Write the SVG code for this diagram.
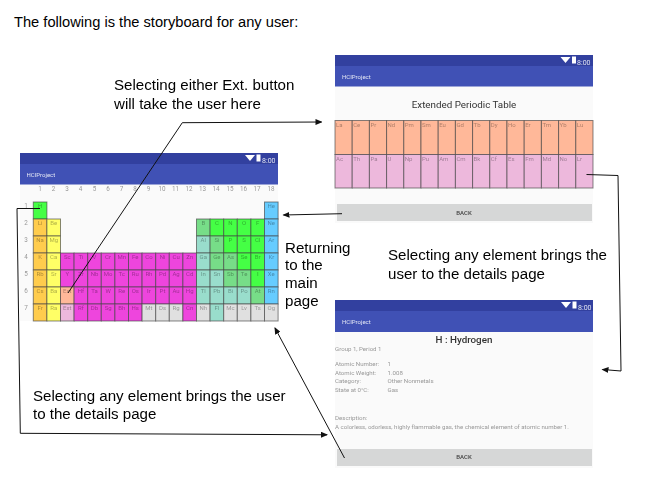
<svg xmlns="http://www.w3.org/2000/svg" width="659" height="502" viewBox="0 0 659 502">
<style>
.note{font:15.1px "Liberation Sans",Arial,sans-serif;fill:#000}
.intro{font:14.67px "Liberation Sans",Arial,sans-serif;fill:#000}
.scr{fill:#fafafa}.st{fill:#303f9f}.ab{fill:#3f51b5}.btn{fill:#d6d7d7}
.ttl{font:6px Roboto,sans-serif;fill:#fff;opacity:.85}
.clk{font:7px Roboto,sans-serif;fill:#fff;opacity:.85}
.idx{font:6.3px Roboto,sans-serif;fill:#999;text-anchor:middle}
.s{font:6px Roboto,sans-serif;fill:#000;opacity:.33;text-anchor:middle}
.l{font:6px Roboto,sans-serif;fill:#000;opacity:.33}
.d{font:6.1px Roboto,sans-serif;fill:#999}
.bk{font:500 6px Roboto,sans-serif;fill:#444;text-anchor:middle}
rect.c{stroke:#444;stroke-opacity:.65;stroke-width:1}
.a{fill:#ffcc4d}.e{fill:#ffff66}.t{fill:#ee44dd}.n{fill:#44ff44}.m{fill:#77dd88}.p{fill:#99ddcc}.g{fill:#66ccff}.u{fill:#e0e0e0}.o{fill:#ffb899}.k{fill:#edb8dc}
.cn{fill:none;stroke:#111;stroke-width:1}
</style>
<defs>
<filter id="soft" x="-2%" y="-2%" width="104%" height="104%"><feGaussianBlur stdDeviation="0.42"/></filter>
<marker id="ah" markerWidth="7" markerHeight="6" refX="6" refY="3" orient="auto" markerUnits="userSpaceOnUse"><path d="M0 0L7 3L0 6Z" fill="#111"/></marker>
<g id="wifi"><path d="M0 0H10L5 6Z" fill="#fff"/><rect x="11.500" y="-.5" width="4" height="7" fill="#fff"/></g>
</defs>
<rect width="659" height="502" fill="#fff"/>
<g id="intro"><text class="intro" x="14" y="27">The following is the storyboard for any user:</text></g>

<g id="main-screen" filter="url(#soft)">
<rect class="scr" x="20" y="153" width="258" height="168"/>
<rect class="st" x="20" y="153" width="258" height="11"/>
<rect class="ab" x="20" y="164" width="258" height="20.500"/>
<use href="#wifi" x="245" y="155"/>
<text class="clk" x="262" y="162.500">8:00</text>
<text class="ttl" x="26.500" y="176.500">HCIProject</text>
<g class="idx">
<text class="idx" x="40" y="191">1</text><text class="idx" x="53.500" y="191">2</text><text class="idx" x="67" y="191">3</text><text class="idx" x="80.500" y="191">4</text><text class="idx" x="94.500" y="191">5</text><text class="idx" x="108" y="191">6</text><text class="idx" x="121.500" y="191">7</text><text class="idx" x="135" y="191">8</text><text class="idx" x="148.500" y="191">9</text><text class="idx" x="162" y="191">10</text><text class="idx" x="175.500" y="191">11</text><text class="idx" x="189" y="191">12</text><text class="idx" x="202.500" y="191">13</text><text class="idx" x="216" y="191">14</text><text class="idx" x="230" y="191">15</text><text class="idx" x="243.500" y="191">16</text><text class="idx" x="257" y="191">17</text><text class="idx" x="271" y="191">18</text>
<text class="idx" x="26" y="207.500">1</text><text class="idx" x="26" y="224.500">2</text><text class="idx" x="26" y="241.500">3</text><text class="idx" x="26" y="258.500">4</text><text class="idx" x="26" y="275.500">5</text><text class="idx" x="26" y="292.500">6</text><text class="idx" x="26" y="309.500">7</text>
</g>
<g id="cells-fill">
<rect class="c n" x="33.300" y="202" width="13.600" height="17"/><rect class="c g" x="264.500" y="202" width="13.600" height="17"/>
<rect class="c a" x="33.300" y="219" width="13.600" height="17"/><rect class="c e" x="46.900" y="219" width="13.600" height="17"/><rect class="c m" x="196.500" y="219" width="13.600" height="17"/><rect class="c n" x="210.100" y="219" width="13.600" height="17"/><rect class="c n" x="223.700" y="219" width="13.600" height="17"/><rect class="c n" x="237.300" y="219" width="13.600" height="17"/><rect class="c n" x="250.900" y="219" width="13.600" height="17"/><rect class="c g" x="264.500" y="219" width="13.600" height="17"/>
<rect class="c a" x="33.300" y="236" width="13.600" height="17"/><rect class="c e" x="46.900" y="236" width="13.600" height="17"/><rect class="c p" x="196.500" y="236" width="13.600" height="17"/><rect class="c m" x="210.100" y="236" width="13.600" height="17"/><rect class="c n" x="223.700" y="236" width="13.600" height="17"/><rect class="c n" x="237.300" y="236" width="13.600" height="17"/><rect class="c n" x="250.900" y="236" width="13.600" height="17"/><rect class="c g" x="264.500" y="236" width="13.600" height="17"/>
<rect class="c a" x="33.300" y="253" width="13.600" height="17"/><rect class="c e" x="46.900" y="253" width="13.600" height="17"/><rect class="c t" x="60.500" y="253" width="13.600" height="17"/><rect class="c t" x="74.100" y="253" width="13.600" height="17"/><rect class="c t" x="87.700" y="253" width="13.600" height="17"/><rect class="c t" x="101.300" y="253" width="13.600" height="17"/><rect class="c t" x="114.900" y="253" width="13.600" height="17"/><rect class="c t" x="128.500" y="253" width="13.600" height="17"/><rect class="c t" x="142.100" y="253" width="13.600" height="17"/><rect class="c t" x="155.700" y="253" width="13.600" height="17"/><rect class="c t" x="169.300" y="253" width="13.600" height="17"/><rect class="c t" x="182.900" y="253" width="13.600" height="17"/><rect class="c p" x="196.500" y="253" width="13.600" height="17"/><rect class="c m" x="210.100" y="253" width="13.600" height="17"/><rect class="c m" x="223.700" y="253" width="13.600" height="17"/><rect class="c n" x="237.300" y="253" width="13.600" height="17"/><rect class="c n" x="250.900" y="253" width="13.600" height="17"/><rect class="c g" x="264.500" y="253" width="13.600" height="17"/>
<rect class="c a" x="33.300" y="270" width="13.600" height="17"/><rect class="c e" x="46.900" y="270" width="13.600" height="17"/><rect class="c t" x="60.500" y="270" width="13.600" height="17"/><rect class="c t" x="74.100" y="270" width="13.600" height="17"/><rect class="c t" x="87.700" y="270" width="13.600" height="17"/><rect class="c t" x="101.300" y="270" width="13.600" height="17"/><rect class="c t" x="114.900" y="270" width="13.600" height="17"/><rect class="c t" x="128.500" y="270" width="13.600" height="17"/><rect class="c t" x="142.100" y="270" width="13.600" height="17"/><rect class="c t" x="155.700" y="270" width="13.600" height="17"/><rect class="c t" x="169.300" y="270" width="13.600" height="17"/><rect class="c t" x="182.900" y="270" width="13.600" height="17"/><rect class="c p" x="196.500" y="270" width="13.600" height="17"/><rect class="c p" x="210.100" y="270" width="13.600" height="17"/><rect class="c m" x="223.700" y="270" width="13.600" height="17"/><rect class="c m" x="237.300" y="270" width="13.600" height="17"/><rect class="c n" x="250.900" y="270" width="13.600" height="17"/><rect class="c g" x="264.500" y="270" width="13.600" height="17"/>
<rect class="c a" x="33.300" y="287" width="13.600" height="17"/><rect class="c e" x="46.900" y="287" width="13.600" height="17"/><rect class="c o" x="60.500" y="287" width="13.600" height="17"/><rect class="c t" x="74.100" y="287" width="13.600" height="17"/><rect class="c t" x="87.700" y="287" width="13.600" height="17"/><rect class="c t" x="101.300" y="287" width="13.600" height="17"/><rect class="c t" x="114.900" y="287" width="13.600" height="17"/><rect class="c t" x="128.500" y="287" width="13.600" height="17"/><rect class="c t" x="142.100" y="287" width="13.600" height="17"/><rect class="c t" x="155.700" y="287" width="13.600" height="17"/><rect class="c t" x="169.300" y="287" width="13.600" height="17"/><rect class="c t" x="182.900" y="287" width="13.600" height="17"/><rect class="c p" x="196.500" y="287" width="13.600" height="17"/><rect class="c p" x="210.100" y="287" width="13.600" height="17"/><rect class="c p" x="223.700" y="287" width="13.600" height="17"/><rect class="c p" x="237.300" y="287" width="13.600" height="17"/><rect class="c m" x="250.900" y="287" width="13.600" height="17"/><rect class="c g" x="264.500" y="287" width="13.600" height="17"/>
<rect class="c a" x="33.300" y="304" width="13.600" height="17"/><rect class="c e" x="46.900" y="304" width="13.600" height="17"/><rect class="c k" x="60.500" y="304" width="13.600" height="17"/><rect class="c t" x="74.100" y="304" width="13.600" height="17"/><rect class="c t" x="87.700" y="304" width="13.600" height="17"/><rect class="c t" x="101.300" y="304" width="13.600" height="17"/><rect class="c t" x="114.900" y="304" width="13.600" height="17"/><rect class="c t" x="128.500" y="304" width="13.600" height="17"/><rect class="c u" x="142.100" y="304" width="13.600" height="17"/><rect class="c u" x="155.700" y="304" width="13.600" height="17"/><rect class="c u" x="169.300" y="304" width="13.600" height="17"/><rect class="c t" x="182.900" y="304" width="13.600" height="17"/><rect class="c u" x="196.500" y="304" width="13.600" height="17"/><rect class="c p" x="210.100" y="304" width="13.600" height="17"/><rect class="c u" x="223.700" y="304" width="13.600" height="17"/><rect class="c u" x="237.300" y="304" width="13.600" height="17"/><rect class="c u" x="250.900" y="304" width="13.600" height="17"/><rect class="c u" x="264.500" y="304" width="13.600" height="17"/>
</g>
<g id="cells-text">
<text class="s" x="40.100" y="207.500">H</text><text class="s" x="271.300" y="207.500">He</text>
<text class="s" x="40.100" y="224.500">Li</text><text class="s" x="53.700" y="224.500">Be</text><text class="s" x="203.300" y="224.500">B</text><text class="s" x="216.900" y="224.500">C</text><text class="s" x="230.500" y="224.500">N</text><text class="s" x="244.100" y="224.500">O</text><text class="s" x="257.700" y="224.500">F</text><text class="s" x="271.300" y="224.500">Ne</text>
<text class="s" x="40.100" y="241.500">Na</text><text class="s" x="53.700" y="241.500">Mg</text><text class="s" x="203.300" y="241.500">Al</text><text class="s" x="216.900" y="241.500">Si</text><text class="s" x="230.500" y="241.500">P</text><text class="s" x="244.100" y="241.500">S</text><text class="s" x="257.700" y="241.500">Cl</text><text class="s" x="271.300" y="241.500">Ar</text>
<text class="s" x="40.100" y="258.500">K</text><text class="s" x="53.700" y="258.500">Ca</text><text class="s" x="67.300" y="258.500">Sc</text><text class="s" x="80.900" y="258.500">Ti</text><text class="s" x="94.500" y="258.500">V</text><text class="s" x="108.100" y="258.500">Cr</text><text class="s" x="121.700" y="258.500">Mn</text><text class="s" x="135.300" y="258.500">Fe</text><text class="s" x="148.900" y="258.500">Co</text><text class="s" x="162.500" y="258.500">Ni</text><text class="s" x="176.100" y="258.500">Cu</text><text class="s" x="189.700" y="258.500">Zn</text><text class="s" x="203.300" y="258.500">Ga</text><text class="s" x="216.900" y="258.500">Ge</text><text class="s" x="230.500" y="258.500">As</text><text class="s" x="244.100" y="258.500">Se</text><text class="s" x="257.700" y="258.500">Br</text><text class="s" x="271.300" y="258.500">Kr</text>
<text class="s" x="40.100" y="275.500">Rb</text><text class="s" x="53.700" y="275.500">Sr</text><text class="s" x="67.300" y="275.500">Y</text><text class="s" x="80.900" y="275.500">Zr</text><text class="s" x="94.500" y="275.500">Nb</text><text class="s" x="108.100" y="275.500">Mo</text><text class="s" x="121.700" y="275.500">Tc</text><text class="s" x="135.300" y="275.500">Ru</text><text class="s" x="148.900" y="275.500">Rh</text><text class="s" x="162.500" y="275.500">Pd</text><text class="s" x="176.100" y="275.500">Ag</text><text class="s" x="189.700" y="275.500">Cd</text><text class="s" x="203.300" y="275.500">In</text><text class="s" x="216.900" y="275.500">Sn</text><text class="s" x="230.500" y="275.500">Sb</text><text class="s" x="244.100" y="275.500">Te</text><text class="s" x="257.700" y="275.500">I</text><text class="s" x="271.300" y="275.500">Xe</text>
<text class="s" x="40.100" y="292.500">Cs</text><text class="s" x="53.700" y="292.500">Ba</text><text class="s" x="67.300" y="292.500">Ext</text><text class="s" x="80.900" y="292.500">Hf</text><text class="s" x="94.500" y="292.500">Ta</text><text class="s" x="108.100" y="292.500">W</text><text class="s" x="121.700" y="292.500">Re</text><text class="s" x="135.300" y="292.500">Os</text><text class="s" x="148.900" y="292.500">Ir</text><text class="s" x="162.500" y="292.500">Pt</text><text class="s" x="176.100" y="292.500">Au</text><text class="s" x="189.700" y="292.500">Hg</text><text class="s" x="203.300" y="292.500">Tl</text><text class="s" x="216.900" y="292.500">Pb</text><text class="s" x="230.500" y="292.500">Bi</text><text class="s" x="244.100" y="292.500">Po</text><text class="s" x="257.700" y="292.500">At</text><text class="s" x="271.300" y="292.500">Rn</text>
<text class="s" x="40.100" y="309.500">Fr</text><text class="s" x="53.700" y="309.500">Ra</text><text class="s" x="67.300" y="309.500">Ext</text><text class="s" x="80.900" y="309.500">Rf</text><text class="s" x="94.500" y="309.500">Db</text><text class="s" x="108.100" y="309.500">Sg</text><text class="s" x="121.700" y="309.500">Bh</text><text class="s" x="135.300" y="309.500">Hs</text><text class="s" x="148.900" y="309.500">Mt</text><text class="s" x="162.500" y="309.500">Ds</text><text class="s" x="176.100" y="309.500">Rg</text><text class="s" x="189.700" y="309.500">Cn</text><text class="s" x="203.300" y="309.500">Nh</text><text class="s" x="216.900" y="309.500">Fl</text><text class="s" x="230.500" y="309.500">Mc</text><text class="s" x="244.100" y="309.500">Lv</text><text class="s" x="257.700" y="309.500">Ts</text><text class="s" x="271.300" y="309.500">Og</text>
</g>
</g>

<g id="extended-screen" filter="url(#soft)">
<rect class="scr" x="335" y="55" width="258" height="168"/>
<rect class="st" x="335" y="55" width="258" height="11"/>
<rect class="ab" x="335" y="66" width="258" height="20.500"/>
<use href="#wifi" x="560.500" y="57"/>
<text class="clk" x="577" y="64.500">8:00</text>
<text class="ttl" x="342" y="78.500">HCIProject</text>
<text x="464" y="108" text-anchor="middle" style="font:9.800px Roboto,sans-serif;fill:#333">Extended Periodic Table</text>
<g>
<rect class="c o" x="335" y="120.500" width="17.200" height="34"/><rect class="c o" x="352.200" y="120.500" width="17.200" height="34"/><rect class="c o" x="369.400" y="120.500" width="17.200" height="34"/><rect class="c o" x="386.600" y="120.500" width="17.200" height="34"/><rect class="c o" x="403.800" y="120.500" width="17.200" height="34"/><rect class="c o" x="421" y="120.500" width="17.200" height="34"/><rect class="c o" x="438.200" y="120.500" width="17.200" height="34"/><rect class="c o" x="455.400" y="120.500" width="17.200" height="34"/><rect class="c o" x="472.600" y="120.500" width="17.200" height="34"/><rect class="c o" x="489.800" y="120.500" width="17.200" height="34"/><rect class="c o" x="507" y="120.500" width="17.200" height="34"/><rect class="c o" x="524.200" y="120.500" width="17.200" height="34"/><rect class="c o" x="541.400" y="120.500" width="17.200" height="34"/><rect class="c o" x="558.600" y="120.500" width="17.200" height="34"/><rect class="c o" x="575.800" y="120.500" width="17.200" height="34"/>
<rect class="c k" x="335" y="154.500" width="17.200" height="33.500"/><rect class="c k" x="352.200" y="154.500" width="17.200" height="33.500"/><rect class="c k" x="369.400" y="154.500" width="17.200" height="33.500"/><rect class="c k" x="386.600" y="154.500" width="17.200" height="33.500"/><rect class="c k" x="403.800" y="154.500" width="17.200" height="33.500"/><rect class="c k" x="421" y="154.500" width="17.200" height="33.500"/><rect class="c k" x="438.200" y="154.500" width="17.200" height="33.500"/><rect class="c k" x="455.400" y="154.500" width="17.200" height="33.500"/><rect class="c k" x="472.600" y="154.500" width="17.200" height="33.500"/><rect class="c k" x="489.800" y="154.500" width="17.200" height="33.500"/><rect class="c k" x="507" y="154.500" width="17.200" height="33.500"/><rect class="c k" x="524.200" y="154.500" width="17.200" height="33.500"/><rect class="c k" x="541.400" y="154.500" width="17.200" height="33.500"/><rect class="c k" x="558.600" y="154.500" width="17.200" height="33.500"/><rect class="c k" x="575.800" y="154.500" width="17.200" height="33.500"/>
</g>
<g>
<text class="l" x="336" y="127">La</text><text class="l" x="353.200" y="127">Ce</text><text class="l" x="370.400" y="127">Pr</text><text class="l" x="387.600" y="127">Nd</text><text class="l" x="404.800" y="127">Pm</text><text class="l" x="422" y="127">Sm</text><text class="l" x="439.200" y="127">Eu</text><text class="l" x="456.400" y="127">Gd</text><text class="l" x="473.600" y="127">Tb</text><text class="l" x="490.800" y="127">Dy</text><text class="l" x="508" y="127">Ho</text><text class="l" x="525.200" y="127">Er</text><text class="l" x="542.400" y="127">Tm</text><text class="l" x="559.600" y="127">Yb</text><text class="l" x="576.800" y="127">Lu</text>
<text class="l" x="336" y="161">Ac</text><text class="l" x="353.200" y="161">Th</text><text class="l" x="370.400" y="161">Pa</text><text class="l" x="387.600" y="161">U</text><text class="l" x="404.800" y="161">Np</text><text class="l" x="422" y="161">Pu</text><text class="l" x="439.200" y="161">Am</text><text class="l" x="456.400" y="161">Cm</text><text class="l" x="473.600" y="161">Bk</text><text class="l" x="490.800" y="161">Cf</text><text class="l" x="508" y="161">Es</text><text class="l" x="525.200" y="161">Fm</text><text class="l" x="542.400" y="161">Md</text><text class="l" x="559.600" y="161">No</text><text class="l" x="576.800" y="161">Lr</text>
</g>
<rect class="btn" x="337" y="204" width="255" height="17"/>
<text class="bk" x="464" y="214.500">BACK</text>
</g>

<g id="details-screen" filter="url(#soft)">
<rect class="scr" x="335" y="300" width="258" height="168"/>
<rect class="st" x="335" y="300" width="258" height="11"/>
<rect class="ab" x="335" y="311" width="258" height="21"/>
<use href="#wifi" x="561" y="302"/>
<text class="clk" x="578" y="309.500">8:00</text>
<text class="ttl" x="342" y="324">HCIProject</text>
<text x="464" y="343" text-anchor="middle" style="font:500 9.800px Roboto,sans-serif;fill:#333">H : Hydrogen</text>
<text class="d" x="335" y="351">Group 1, Period 1</text>
<text class="d" x="335" y="366">Atomic Number:</text><text class="d" x="387.500" y="366">1</text>
<text class="d" x="335" y="374.500">Atomic Weight:</text><text class="d" x="387.500" y="374.500">1.008</text>
<text class="d" x="335" y="383">Category:</text><text class="d" x="387.500" y="383">Other Nonmetals</text>
<text class="d" x="335" y="391.500">State at 0°C:</text><text class="d" x="387.500" y="391.500">Gas</text>
<text class="d" x="335" y="420">Description:</text>
<text class="d" x="335" y="428.500">A colorless, odorless, highly flammable gas, the chemical element of atomic number 1.</text>
<rect class="btn" x="337" y="449" width="255" height="17"/>
<text class="bk" x="464" y="459">BACK</text>
</g>

<g id="connectors">
<path class="cn" marker-end="url(#ah)" d="M68 293L182.300 122.700L321.500 122"/>
<path class="cn" marker-end="url(#ah)" d="M342 213.700L283.500 215"/>
<path class="cn" marker-end="url(#ah)" d="M586.500 174.500L618 175.500L621 371L602.500 369.500"/>
<path class="cn" marker-end="url(#ah)" d="M40 208.500H17L20.300 433.300L327 434.800"/>
<path class="cn" marker-end="url(#ah)" d="M344.500 458L275 328"/>
</g>

<g id="labels">
<text class="note" x="114" y="90">Selecting either Ext. button</text>
<text class="note" x="114" y="108.500">will take the user here</text>
<text class="note" x="285" y="252.500">Returning</text>
<text class="note" x="285" y="270">to the</text>
<text class="note" x="285" y="288">main</text>
<text class="note" x="285" y="306">page</text>
<text class="note" x="388" y="260">Selecting any element brings the</text>
<text class="note" x="388" y="278.500">user to the details page</text>
<text class="note" x="33" y="401">Selecting any element brings the user</text>
<text class="note" x="33" y="419">to the details page</text>
</g>
</svg>
